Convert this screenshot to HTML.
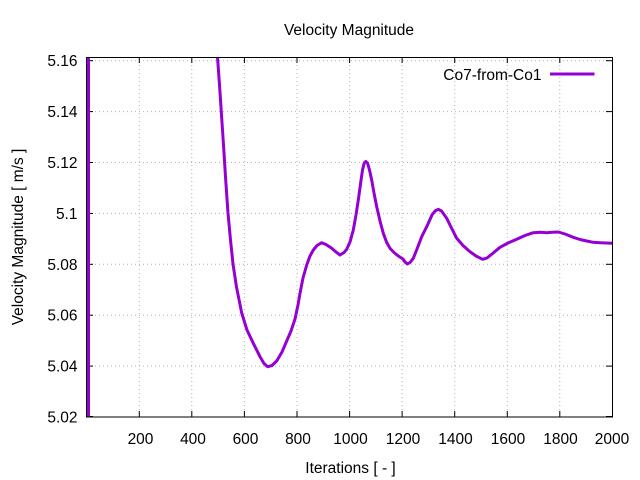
<!DOCTYPE html>
<html><head><meta charset="utf-8"><style>
html,body{margin:0;padding:0;background:#fff;}
svg{display:block;}
text{font-family:"Liberation Sans",Arial,sans-serif;fill:#000;}
</style></head><body>
<svg width="640" height="480" viewBox="0 0 640 480" xmlns="http://www.w3.org/2000/svg">
<rect width="640" height="480" fill="#fff"/>
<g stroke="#b4b4b4" stroke-width="1" stroke-dasharray="1 3" fill="none">
<line x1="139.3" y1="57" x2="139.3" y2="417"/>
<line x1="191.8" y1="57" x2="191.8" y2="417"/>
<line x1="244.4" y1="57" x2="244.4" y2="417"/>
<line x1="297" y1="57" x2="297" y2="417"/>
<line x1="349.6" y1="57" x2="349.6" y2="417"/>
<line x1="402.1" y1="57" x2="402.1" y2="417"/>
<line x1="454.7" y1="57" x2="454.7" y2="417"/>
<line x1="507.3" y1="57" x2="507.3" y2="417"/>
<line x1="559.8" y1="57" x2="559.8" y2="417"/>
<line x1="87" y1="366.1" x2="612" y2="366.1"/>
<line x1="87" y1="315.2" x2="612" y2="315.2"/>
<line x1="87" y1="264.3" x2="612" y2="264.3"/>
<line x1="87" y1="213.4" x2="612" y2="213.4"/>
<line x1="87" y1="162.5" x2="612" y2="162.5"/>
<line x1="87" y1="111.6" x2="612" y2="111.6"/>
<line x1="87" y1="60.7" x2="612" y2="60.7"/>
</g>
<g stroke="#000" stroke-width="1">
<line x1="139.3" y1="417" x2="139.3" y2="411"/><line x1="139.3" y1="57" x2="139.3" y2="63"/>
<line x1="191.8" y1="417" x2="191.8" y2="411"/><line x1="191.8" y1="57" x2="191.8" y2="63"/>
<line x1="244.4" y1="417" x2="244.4" y2="411"/><line x1="244.4" y1="57" x2="244.4" y2="63"/>
<line x1="297" y1="417" x2="297" y2="411"/><line x1="297" y1="57" x2="297" y2="63"/>
<line x1="349.6" y1="417" x2="349.6" y2="411"/><line x1="349.6" y1="57" x2="349.6" y2="63"/>
<line x1="402.1" y1="417" x2="402.1" y2="411"/><line x1="402.1" y1="57" x2="402.1" y2="63"/>
<line x1="454.7" y1="417" x2="454.7" y2="411"/><line x1="454.7" y1="57" x2="454.7" y2="63"/>
<line x1="507.3" y1="417" x2="507.3" y2="411"/><line x1="507.3" y1="57" x2="507.3" y2="63"/>
<line x1="559.8" y1="417" x2="559.8" y2="411"/><line x1="559.8" y1="57" x2="559.8" y2="63"/>
<line x1="87" y1="366.1" x2="93" y2="366.1"/><line x1="612" y1="366.1" x2="606" y2="366.1"/>
<line x1="87" y1="315.2" x2="93" y2="315.2"/><line x1="612" y1="315.2" x2="606" y2="315.2"/>
<line x1="87" y1="264.3" x2="93" y2="264.3"/><line x1="612" y1="264.3" x2="606" y2="264.3"/>
<line x1="87" y1="213.4" x2="93" y2="213.4"/><line x1="612" y1="213.4" x2="606" y2="213.4"/>
<line x1="87" y1="162.5" x2="93" y2="162.5"/><line x1="612" y1="162.5" x2="606" y2="162.5"/>
<line x1="87" y1="111.6" x2="93" y2="111.6"/><line x1="612" y1="111.6" x2="606" y2="111.6"/>
<line x1="87" y1="60.7" x2="93" y2="60.7"/><line x1="612" y1="60.7" x2="606" y2="60.7"/>
<line x1="87" y1="416.5" x2="93" y2="416.5"/><line x1="612" y1="416.5" x2="606" y2="416.5"/>
</g>
<g fill="none" stroke="#9400d3" stroke-width="3" stroke-linejoin="round" stroke-linecap="butt">
<line x1="88.5" y1="57" x2="88.5" y2="417"/>
<polyline points="217.5,57 219.5,85 221.5,115 223.5,145 225.7,180 228,213 230.5,240 233,264 236.5,287 241.7,313 247,330 253.3,343.3 260,356.7 264,363.5 267.7,366.7 272,365.5 276.7,361 282,352 286.7,341 291,331 295,319 298,305 300,293.3 303,278 306.7,265 310,256 313.3,250 317,245.5 321.7,242.7 326,244.5 331.7,248.3 336,252 340,255 344,252.5 346.7,249.3 350,242 353.3,230 356,215 358.3,200 360.5,184 362.5,170 364.2,163 365.7,161.5 367.5,163 369.5,170 371.7,180 374,193 376.7,206.7 380,221 383.3,233.3 386.5,242 390,248.3 394,252.5 398.3,256 403,259 405,262 407.3,264 410,262.5 413.3,258.3 417,249 421.7,236.7 426.7,226.7 432,215 435,211 438.3,209.3 441.5,211 446.7,218.3 451,227 456.7,238.3 463,245.5 470,251.7 476,256 482.7,259.3 487,258 492,254 500,247.3 508,243 516.7,239.3 525,235.5 533.3,232.7 540,232.2 546.7,232.7 552,232.3 558.3,232 565,234 573.3,237.3 580,239.5 586.7,241 593,242.3 600,242.7 606,243 612,243.3"/>
</g>
<rect x="86.5" y="57.5" width="526" height="359.5" fill="none" stroke="#000" stroke-width="1"/>
<g font-size="15.5" text-anchor="end">
<text x="77.5" y="422.5">5.02</text>
<text x="77.5" y="371.6">5.04</text>
<text x="77.5" y="320.7">5.06</text>
<text x="77.5" y="269.8">5.08</text>
<text x="77.5" y="218.9">5.1</text>
<text x="77.5" y="168">5.12</text>
<text x="77.5" y="117.1">5.14</text>
<text x="77.5" y="66.2">5.16</text>
</g>
<g font-size="15.5" text-anchor="middle">
<text x="140.5" y="444">200</text>
<text x="193" y="444">400</text>
<text x="245.5" y="444">600</text>
<text x="298" y="444">800</text>
<text x="350.5" y="444">1000</text>
<text x="403" y="444">1200</text>
<text x="455.5" y="444">1400</text>
<text x="508" y="444">1600</text>
<text x="560.5" y="444">1800</text>
<text x="612" y="444">2000</text>
</g>
<text x="349" y="35" font-size="15.5" text-anchor="middle">Velocity Magnitude</text>
<text x="350.5" y="473" font-size="15.5" text-anchor="middle">Iterations [ - ]</text>
<text transform="translate(23,237) rotate(-90)" font-size="15.5" text-anchor="middle">Velocity Magnitude [ m/s ]</text>
<text x="541.5" y="80" font-size="15.5" text-anchor="end">Co7-from-Co1</text>
<line x1="550" y1="74" x2="594.5" y2="74" stroke="#9400d3" stroke-width="3"/>
</svg>
</body></html>
